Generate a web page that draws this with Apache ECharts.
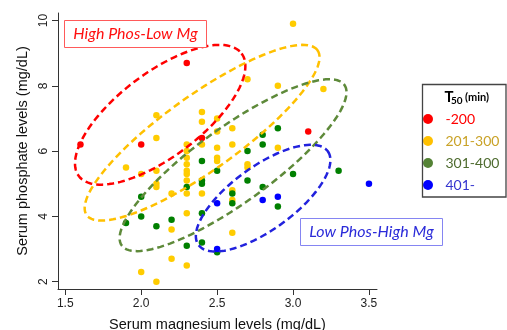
<!DOCTYPE html>
<html><head><meta charset="utf-8">
<script src="https://cdn.jsdelivr.net/npm/echarts@6/dist/echarts.min.js"></script>
<style>html,body{margin:0;padding:0;background:#fff}#c{width:507px;height:330px}</style>
</head><body><div id="c"></div>
<script>
// ---- data ----
const groupNames = ['-200', '201-300', '301-400', '401-'];
const mgRed = [1.6, 2.0, 2.3, 2.4, 3.1];
const phosRed = [6.2, 6.2, 8.7, 6.4, 6.6];
const mgYellow = [1.9, 2.0, 2.0, 2.1, 2.1, 2.1, 2.1, 2.1, 2.1, 2.2, 2.2, 2.2, 2.3, 2.3, 2.3, 2.3, 2.3, 2.3, 2.3, 2.3, 2.3, 2.3, 2.4, 2.4, 2.4, 2.4, 2.5, 2.5, 2.5, 2.5, 2.5, 2.6, 2.6, 2.6, 2.6, 2.6, 2.7, 2.7, 2.7, 2.9, 2.9, 3.0, 3.2];
const phosYellow = [5.5, 5.3, 2.3, 7.1, 6.4, 5.4, 5.0, 4.9, 2.0, 4.7, 3.6, 2.7, 6.2, 6.0, 5.8, 5.6, 5.4, 5.3, 5.1, 4.7, 4.1, 2.5, 7.2, 6.9, 6.2, 4.7, 7.0, 6.6, 6.1, 5.8, 5.7, 6.7, 6.2, 4.8, 4.5, 3.5, 8.2, 5.6, 5.5, 8.0, 6.1, 9.9, 7.9];
const mgGreen = [1.9, 2.0, 2.0, 2.1, 2.2, 2.3, 2.3, 2.4, 2.4, 2.4, 2.4, 2.4, 2.5, 2.5, 2.6, 2.6, 2.7, 2.7, 2.8, 2.8, 2.8, 2.9, 2.9, 3.0, 3.3];
const phosGreen = [3.8, 4.6, 4.0, 3.7, 3.9, 4.9, 3.1, 5.7, 5.1, 5.0, 4.1, 3.2, 5.4, 2.9, 4.7, 4.4, 6.0, 5.1, 6.5, 6.2, 4.9, 6.7, 4.3, 5.3, 5.4];
const mgBlue = [2.5, 2.5, 2.8, 2.9, 3.5];
const phosBlue = [4.4, 3.0, 4.5, 4.6, 5.0];
const xTickValues = [1.5, 2.0, 2.5, 3.0, 3.5];
const xTickLabels = ['1.5', '2.0', '2.5', '3.0', '3.5'];
const yTickValues = [2, 4, 6, 8, 10];
const yTickLabels = ['2', '4', '6', '8', '10'];
// ellipse annotations (data units): center, end of one semi-axis, end of the other
const ellipseCenters = [[2.125, 7.113], [2.401, 6.563], [2.605, 5.569], [2.803, 4.560]];
const ellipseMajorEnds = [[2.661, 8.991], [3.161, 9.089], [3.338, 8.031], [3.229, 5.994]];
const ellipseMinorEnds = [[2.291, 6.086], [2.545, 5.633], [2.750, 4.636], [2.925, 3.774]];
const xTitle = 'Serum magnesium levels (mg/dL)';
const yTitle = 'Serum phosphate levels (mg/dL)';

// ---- styles ----
const pointColors = ['#FF0000', '#FFCC00', '#008000', '#0000FF'];
const legendIconColors = ['#FF0000', '#FFC000', '#548235', '#0000FF'];
const legendTextColors = ['#FF0000', '#C9A227', '#4E6B2F', '#3535CF'];
const ellipseColors = ['#FF0000', '#FFC000', '#5E8A3A', '#2222DD'];

function zip(a, b) { return a.map((v, i) => [v, b[i]]); }
const groups = [zip(mgRed, phosRed), zip(mgYellow, phosYellow), zip(mgGreen, phosGreen), zip(mgBlue, phosBlue)];

const chart = echarts.init(document.getElementById('c'), null, { renderer: 'canvas' });
const axisFont = 'Liberation Sans, Arial, sans-serif';

const scatterSeries = groups.map((g, i) => ({
  name: groupNames[i], type: 'scatter', data: g, symbolSize: 6.5,
  itemStyle: { color: pointColors[i], opacity: 1 }, z: 2,
  emphasis: { disabled: true }
}));

const ellipseData = ellipseCenters.map((c, i) => [c[0], c[1], ellipseMajorEnds[i][0], ellipseMajorEnds[i][1], ellipseMinorEnds[i][0], ellipseMinorEnds[i][1], i]);

const ellipseSeries = {
  type: 'custom', name: 'ellipses', coordinateSystem: 'cartesian2d', z: 3, silent: true,
  data: ellipseData,
  encode: { x: [0, 2, 4], y: [1, 3, 5] },
  renderItem: function (params, api) {
    const c = api.coord([api.value(0), api.value(1)]);
    const m = api.coord([api.value(2), api.value(3)]);
    const n = api.coord([api.value(4), api.value(5)]);
    const idx = api.value(6);
    const u = [m[0] - c[0], m[1] - c[1]], v = [n[0] - c[0], n[1] - c[1]];
    const pts = [];
    const N = 120;
    for (let k = 0; k < N; k++) {
      const t = 2 * Math.PI * k / N;
      pts.push([c[0] + u[0] * Math.cos(t) + v[0] * Math.sin(t), c[1] + u[1] * Math.cos(t) + v[1] * Math.sin(t)]);
    }
    return { type: 'polygon', shape: { points: pts }, style: { fill: 'none', stroke: ellipseColors[idx], lineWidth: 2.5, lineDash: [7, 4] } };
  }
};

const option = {
  animation: false,
  backgroundColor: '#fff',
  grid: { left: 58, right: 130, top: 13, bottom: 41, containLabel: false, outerBoundsMode: 'none' },
  xAxis: {
    type: 'value', min: 1.452, max: 3.553,
    name: xTitle, nameLocation: 'middle', nameGap: 28,
    nameTextStyle: { fontFamily: axisFont, fontSize: 14.5, color: '#111' },
    axisLine: { show: true, lineStyle: { color: '#333', width: 1 } },
    axisTick: { show: true, length: 6, customValues: xTickValues, lineStyle: { color: '#333' } },
    axisLabel: { customValues: xTickValues, margin: 9, fontFamily: axisFont, fontSize: 12, color: '#222',
      formatter: v => { const i = xTickValues.findIndex(t => Math.abs(t - v) < 1e-6); return i >= 0 ? xTickLabels[i] : ''; } },
    splitLine: { show: false }
  },
  yAxis: {
    type: 'value', min: 1.777, max: 10.23,
    name: yTitle, nameLocation: 'middle', nameGap: 27, nameRotate: 90,
    nameTextStyle: { fontFamily: axisFont, fontSize: 14.5, color: '#111' },
    axisLine: { show: true, lineStyle: { color: '#333', width: 1 } },
    axisTick: { show: true, length: 6, customValues: yTickValues, lineStyle: { color: '#333' } },
    axisLabel: { customValues: yTickValues, rotate: 90, margin: 8, fontFamily: axisFont, fontSize: 12, color: '#222',
      formatter: v => { const i = yTickValues.findIndex(t => Math.abs(t - v) < 1e-6); return i >= 0 ? yTickLabels[i] : ''; } },
    splitLine: { show: false }
  },
  legend: {
    orient: 'vertical', left: 423, top: 112, padding: 0, itemGap: 8,
    itemWidth: 23, itemHeight: 10, icon: 'circle', selectedMode: false,
    textStyle: { fontFamily: 'Lato, sans-serif', fontSize: 14, padding: [0, 0, 0, 1] },
    data: groupNames.map((nm, i) => ({ name: nm, itemStyle: { color: legendIconColors[i] }, textStyle: { color: legendTextColors[i] } }))
  },
  graphic: [
    { type: 'rect', shape: { x: 422.5, y: 84.5, width: 83.5, height: 112.5 }, style: { fill: 'none', stroke: '#444', lineWidth: 1.3 }, z: 10 },
    { type: 'text', x: 444.5, y: 97, style: { text: 'T', font: 'bold 15px Lato, sans-serif', fill: '#000', verticalAlign: 'middle' }, z: 10 },
    { type: 'text', x: 451, y: 101, style: { text: '50', font: 'bold 10px Lato, sans-serif', fill: '#000', verticalAlign: 'middle' }, z: 10 },
    { type: 'text', x: 465, y: 97.5, style: { text: '(min)', font: 'bold 11px Lato, sans-serif', fill: '#000', verticalAlign: 'middle' }, z: 10 },
    { type: 'rect', shape: { x: 64.5, y: 20.5, width: 142, height: 27 }, style: { fill: '#fff', stroke: '#FF5A5A', lineWidth: 1 }, z: 10 },
    { type: 'text', x: 135.5, y: 34, style: { text: 'High Phos-Low Mg', font: 'italic 16px Lato, sans-serif', fill: '#FF1010', align: 'center', verticalAlign: 'middle' }, z: 11 },
    { type: 'rect', shape: { x: 300.5, y: 218.5, width: 142, height: 27 }, style: { fill: '#fff', stroke: '#8585F2', lineWidth: 1 }, z: 10 },
    { type: 'text', x: 371.5, y: 232, style: { text: 'Low Phos-High Mg', font: 'italic 16px Lato, sans-serif', fill: '#2B2BD9', align: 'center', verticalAlign: 'middle' }, z: 11 }
  ],
  series: scatterSeries.concat([ellipseSeries])
};
chart.setOption(option);
</script></body></html>
